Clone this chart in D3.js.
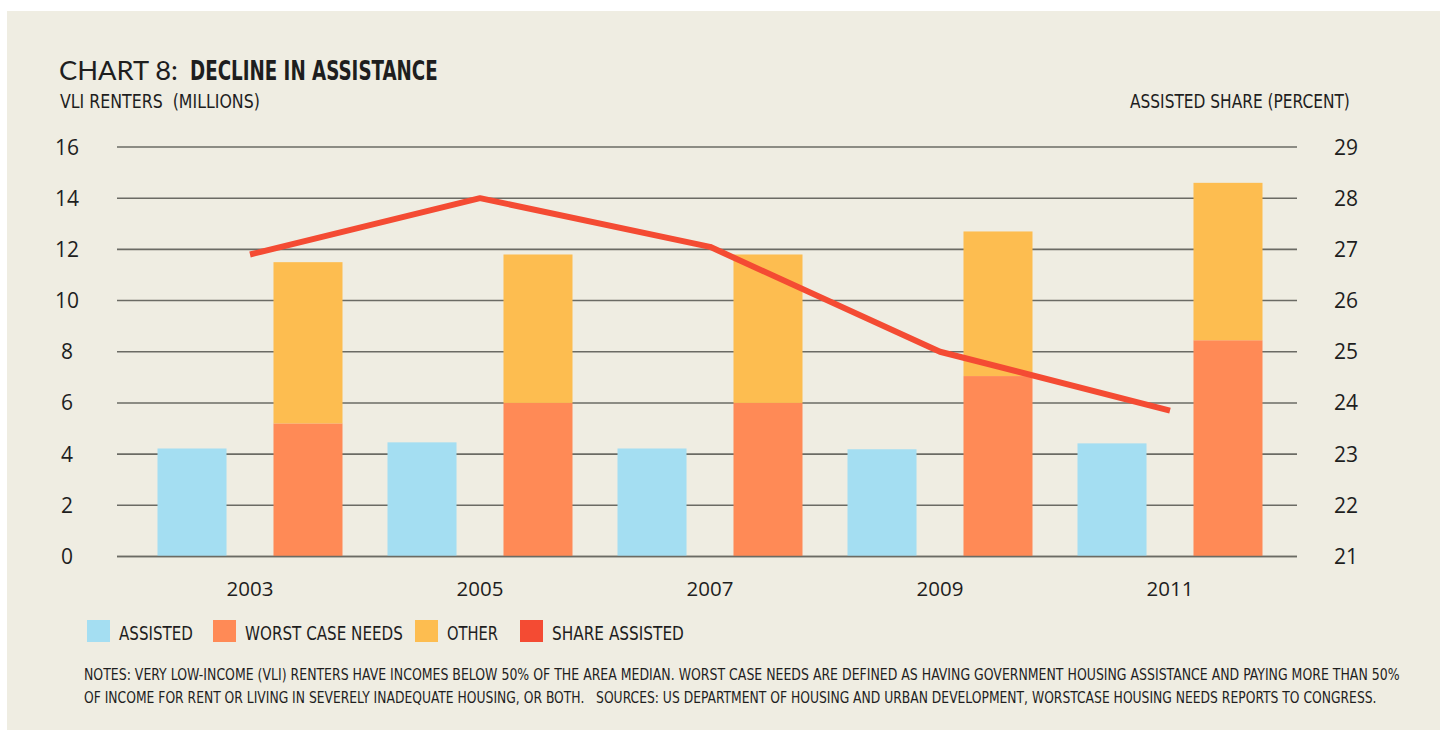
<!DOCTYPE html>
<html>
<head>
<meta charset="utf-8">
<script src="https://cdn.jsdelivr.net/npm/d3@7"></script>
<style>
  html, body { margin: 0; padding: 0; background: #ffffff; }
  svg { display: block; }
</style>
</head>
<body>
<svg id="chart" width="1440" height="730"></svg>
<script>
// ---- data ----
const years = ["2003", "2005", "2007", "2009", "2011"];
const assisted = [4.22, 4.46, 4.22, 4.19, 4.42];
const worstCase = [5.2, 6.0, 6.0, 7.05, 8.45];
const other = [6.3, 5.8, 5.8, 5.65, 6.15];
const shareAssisted = [26.9, 28.0, 27.05, 25.0, 23.85];
const leftTicks = [0, 2, 4, 6, 8, 10, 12, 14, 16];
const rightTicks = [21, 22, 23, 24, 25, 26, 27, 28, 29];
const legendLabels = ["ASSISTED", "WORST CASE NEEDS", "OTHER", "SHARE ASSISTED"];

// ---- styles ----
const colors = {
  assisted: "#A4DEF2",
  worst: "#FF8A56",
  other: "#FDBD50",
  line: "#F44B33",
  bg: "#EFEDE2",
  grid: "#6b6b64",
  text: "#1e1e1e"
};
const legendColors = [colors.assisted, colors.worst, colors.other, colors.line];
const numFont = "'Open Sans', 'Noto Sans', sans-serif";
const condFont = "'Liberation Sans Narrow', 'DejaVu Sans Condensed', 'Roboto', sans-serif";

const svg = d3.select("#chart");
svg.append("rect").attr("x", 7).attr("y", 11).attr("width", 1433).attr("height", 719).attr("fill", colors.bg);

// ---- scales ----
const y = d3.scaleLinear().domain([0, 16]).range([556.5, 147]);
const y2 = d3.scaleLinear().domain([21, 29]).range([556.5, 147]);
const x = d3.scaleBand().domain(years).range([135, 1285]).padding(0);
const xs = d3.scaleBand().domain(["a", "b"]).range([0, x.bandwidth()]).paddingInner(0.405).paddingOuter(0.194);

// ---- gridlines ----
const gridX1 = 117, gridX2 = 1297;
svg.append("g").selectAll("line").data(leftTicks).join("line")
  .attr("x1", gridX1).attr("x2", gridX2)
  .attr("y1", d => y(d)).attr("y2", d => y(d))
  .attr("stroke", colors.grid).attr("stroke-width", 1.6);

// left axis labels
svg.append("g").selectAll("text").data(leftTicks).join("text")
  .attr("x", 67).attr("y", d => y(d) + 7.5)
  .attr("text-anchor", "middle")
  .attr("font-family", numFont).attr("font-size", 21).attr("fill", colors.text)
  .text(d => d);

// right axis labels
svg.append("g").selectAll("text").data(rightTicks).join("text")
  .attr("x", 1346).attr("y", d => y2(d) + 7.5)
  .attr("text-anchor", "middle")
  .attr("font-family", numFont).attr("font-size", 21).attr("fill", colors.text)
  .text(d => d);

// x labels
svg.append("g").selectAll("text").data(years).join("text")
  .attr("x", d => x(d) + x.bandwidth() / 2).attr("y", 596)
  .attr("text-anchor", "middle")
  .attr("font-family", numFont).attr("font-size", 20.5).attr("fill", colors.text)
  .text(d => d);

// ---- bars ----
const rows = years.map((yr, i) => ({ year: yr, assisted: assisted[i], worst: worstCase[i], other: other[i] }));
const bars = svg.append("g");
bars.selectAll("rect.assisted").data(rows).join("rect").attr("class", "assisted")
  .attr("x", d => x(d.year) + xs("a")).attr("width", xs.bandwidth())
  .attr("y", d => y(d.assisted)).attr("height", d => y(0) - y(d.assisted))
  .attr("fill", colors.assisted);
const stack = d3.stack().keys(["worst", "other"])(rows);
const stackColors = { worst: colors.worst, other: colors.other };
stack.forEach(layer => {
  bars.selectAll("rect." + layer.key).data(layer).join("rect").attr("class", layer.key)
    .attr("x", d => x(d.data.year) + xs("b")).attr("width", xs.bandwidth())
    .attr("y", d => y(d[1])).attr("height", d => y(d[0]) - y(d[1]))
    .attr("fill", stackColors[layer.key]);
});
// redraw baseline over bars
svg.append("line").attr("x1", gridX1).attr("x2", gridX2).attr("y1", y(0)).attr("y2", y(0))
  .attr("stroke", colors.grid).attr("stroke-width", 1.6);

// ---- line ----
const line = d3.line().x((d, i) => x(years[i]) + x.bandwidth() / 2).y(d => y2(d));
svg.append("path").datum(shareAssisted).attr("d", line)
  .attr("fill", "none").attr("stroke", colors.line).attr("stroke-width", 6)
  .attr("stroke-linejoin", "round");

// ---- text helpers: condensed text scaled horizontally to a target width ----
function fitText(txt, xPos, yPos, size, width, weight, family) {
  const t = svg.append("text").attr("x", 0).attr("y", 0)
    .attr("font-family", family || condFont).attr("font-size", size)
    .attr("font-weight", weight || "normal").attr("fill", colors.text)
    .style("white-space", "pre")
    .text(txt);
  const natural = t.node().getComputedTextLength() || width;
  const sx = width / natural;
  t.attr("transform", `translate(${xPos},${yPos}) scale(${sx},1)`);
  return t;
}

// ---- titles ----
fitText("CHART 8:", 59, 80, 27, 119, "normal", "'Lato', 'Open Sans', sans-serif");
fitText("DECLINE IN ASSISTANCE", 190, 80, 27, 248, "bold");
fitText("VLI RENTERS  (MILLIONS)", 60, 108, 20, 200);
fitText("ASSISTED SHARE (PERCENT)", 1130, 108, 20, 220);

// ---- legend ----
const legX = [87, 213, 415, 520];
const legTextX = [119, 245, 447, 552];
const legW = [74, 158, 51, 132];
legendLabels.forEach((lab, i) => {
  svg.append("rect").attr("x", legX[i]).attr("y", 620).attr("width", 23).attr("height", 22)
    .attr("fill", legendColors[i]);
  fitText(lab, legTextX[i], 640, 20, legW[i]);
});

// ---- notes ----
fitText("NOTES: VERY LOW-INCOME (VLI) RENTERS HAVE INCOMES BELOW 50% OF THE AREA MEDIAN. WORST CASE NEEDS ARE DEFINED AS HAVING GOVERNMENT HOUSING ASSISTANCE AND PAYING MORE THAN 50%", 84, 680, 15.5, 1316);
fitText("OF INCOME FOR RENT OR LIVING IN SEVERELY INADEQUATE HOUSING, OR BOTH.   SOURCES: US DEPARTMENT OF HOUSING AND URBAN DEVELOPMENT, WORSTCASE HOUSING NEEDS REPORTS TO CONGRESS.", 84, 703, 15.5, 1294);
</script>
</body>
</html>
